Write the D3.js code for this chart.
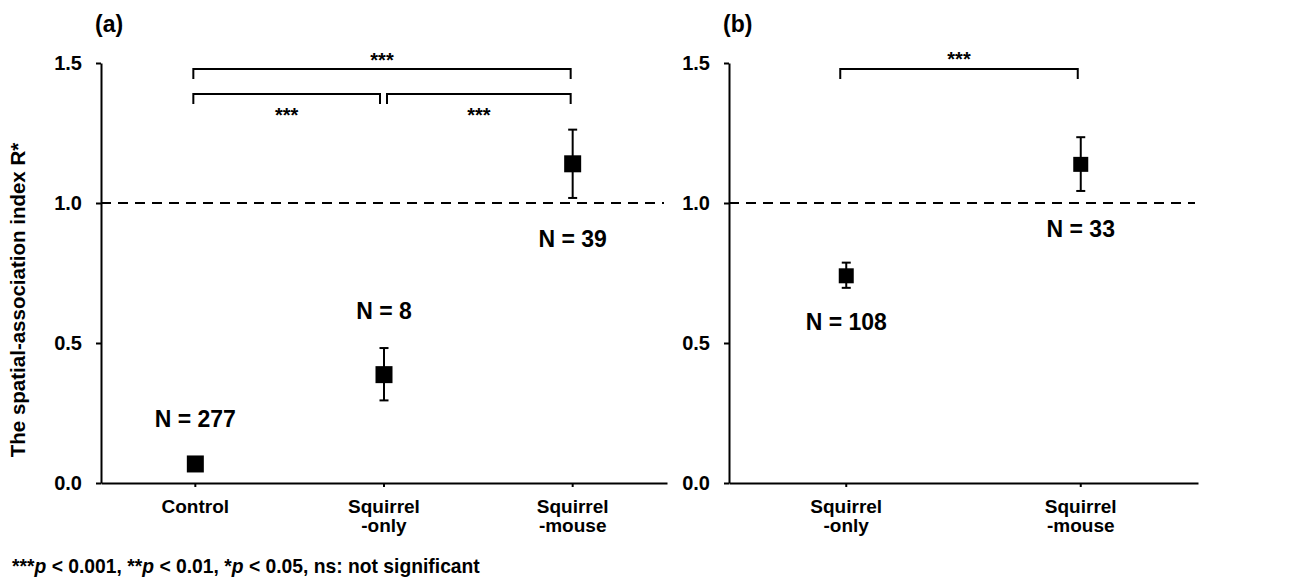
<!DOCTYPE html>
<html><head><meta charset="utf-8">
<script src="https://cdn.jsdelivr.net/npm/d3@7"></script>
<style>
body{margin:0;background:#fff;}
svg text{font-family:"Liberation Sans",Arial,sans-serif;font-weight:bold;fill:#000;}
</style></head>
<body><svg id="c" width="1312" height="583"></svg>
<script>
// ---- data ----
const categoriesA = ["Control", "Squirrel\n-only", "Squirrel\n-mouse"];
const meanA = [0.068, 0.387, 1.140];
const lowA  = [null, 0.295, 1.018];
const highA = [null, 0.482, 1.262];
const nA    = [277, 8, 39];

const categoriesB = ["Squirrel\n-only", "Squirrel\n-mouse"];
const meanB = [0.740, 1.138];
const lowB  = [0.697, 1.043];
const highB = [0.787, 1.235];
const nB    = [108, 33];

const yTicks = [0, 0.5, 1.0, 1.5];
const refLine = 1.0;
const bracketsA = [[0, 2, "***"], [0, 1, "***"], [1, 2, "***"]];
const bracketsB = [[0, 1, "***"]];
const footnote = "***p < 0.001, **p < 0.01, *p < 0.05, ns: not significant";

// ---- layout ----
const svg = d3.select("#c");
const y = d3.scaleLinear().domain([0, 1.5]).range([483, 63]);

function panel(cfg) {
  const x = d3.scaleBand().domain(cfg.cats).range(cfg.xr).paddingInner(0).paddingOuter(0);
  const g = svg.append("g");
  // y axis
  const ya = g.append("g").attr("transform", `translate(${cfg.xr[0]},0)`)
    .call(d3.axisLeft(y).tickValues(yTicks).tickFormat(d3.format(".1f")).tickSize(5).tickSizeOuter(0).tickPadding(14));
  ya.selectAll("path,line").attr("stroke", "#000").attr("stroke-width", 2);
  ya.selectAll("text").style("font-size", "20px").style("font-family", "Liberation Sans, Arial").style("font-weight", "bold");
  // x axis
  const xa = g.append("g").attr("transform", `translate(0,${y(0)})`)
    .call(d3.axisBottom(x).tickSize(4).tickSizeOuter(0).tickFormat(""));
  xa.selectAll("path,line").attr("stroke", "#000").attr("stroke-width", 2);
  cfg.cats.forEach(c => {
    const lines = c.split("\n");
    const t = g.append("text").attr("x", x(c) + x.bandwidth() / 2).attr("y", 513)
      .attr("text-anchor", "middle").style("font-size", "19px");
    lines.forEach((l, i) => t.append("tspan").attr("x", x(c) + x.bandwidth() / 2).attr("dy", i ? 19 : 0).text(l));
  });
  // reference dashed line
  g.append("line").attr("x1", cfg.xr[0]).attr("x2", cfg.xr[1] - 3)
    .attr("y1", y(refLine)).attr("y2", y(refLine))
    .attr("stroke", "#000").attr("stroke-width", 2).attr("stroke-dasharray", "10,7");
  // error bars
  cfg.cats.forEach((c, i) => {
    const cx = x(c) + x.bandwidth() / 2;
    if (cfg.low[i] != null) {
      g.append("line").attr("x1", cx).attr("x2", cx).attr("y1", y(cfg.high[i])).attr("y2", y(cfg.low[i]))
        .attr("stroke", "#000").attr("stroke-width", 2);
      [cfg.high[i], cfg.low[i]].forEach(v => g.append("line").attr("x1", cx - 4.5).attr("x2", cx + 4.5)
        .attr("y1", y(v)).attr("y2", y(v)).attr("stroke", "#000").attr("stroke-width", 2));
    }
    const s = cfg.sq;
    g.append("rect").attr("x", cx - s / 2).attr("y", y(cfg.mean[i]) - s / 2).attr("width", s).attr("height", s).attr("fill", "#000");
    g.append("text").attr("x", cx).attr("y", y(cfg.mean[i]) + cfg.nOff[i]).attr("text-anchor", "middle")
      .attr("dominant-baseline", "central").style("font-size", "23px").text("N = " + cfg.n[i]);
  });
  // brackets
  cfg.brackets.forEach((b, k) => {
    const lv = cfg.levels[k];
    const x1 = x(cfg.cats[b[0]]) + x.bandwidth() / 2 + lv.in0;
    const x2 = x(cfg.cats[b[1]]) + x.bandwidth() / 2 - lv.in1;
    g.append("path").attr("d", `M${x1},${lv.y + 10}V${lv.y}H${x2}V${lv.y + 10}`)
      .attr("fill", "none").attr("stroke", "#000").attr("stroke-width", 2);
    g.append("text").attr("x", (x1 + x2) / 2).attr("y", lv.ty).attr("text-anchor", "middle")
      .attr("dominant-baseline", "central").style("font-size", "20px").text(b[2]);
  });
  g.append("text").attr("x", cfg.xr[0] - 6).attr("y", 32).style("font-size", "23px").text(cfg.tag);
}

panel({
  cats: categoriesA, mean: meanA, low: lowA, high: highA, n: nA, xr: [101, 667], sq: 17,
  nOff: [-45, -64, 75], brackets: bracketsA, tag: "(a)",
  levels: [{y: 69, ty: 60, in0: -2, in1: 2}, {y: 94, ty: 115, in0: -2, in1: 4}, {y: 94, ty: 115, in0: 3, in1: 2}]
});
panel({
  cats: categoriesB, mean: meanB, low: lowB, high: highB, n: nB, xr: [729, 1198], sq: 15,
  nOff: [46, 65], brackets: bracketsB, tag: "(b)",
  levels: [{y: 69, ty: 59, in0: -6, in1: 3}]
});

// y axis title
svg.append("text").attr("transform", "translate(25,300) rotate(-90)").attr("text-anchor", "middle")
  .style("font-size", "20.5px").text("The spatial-association index R*");

// footnote
const fn = svg.append("text").attr("x", 12).attr("y", 573).style("font-size", "19.3px");
footnote.split(/(p)(?= <)/).forEach(part => {
  fn.append("tspan").style("font-style", part === "p" ? "italic" : "normal").text(part);
});
</script></body></html>
